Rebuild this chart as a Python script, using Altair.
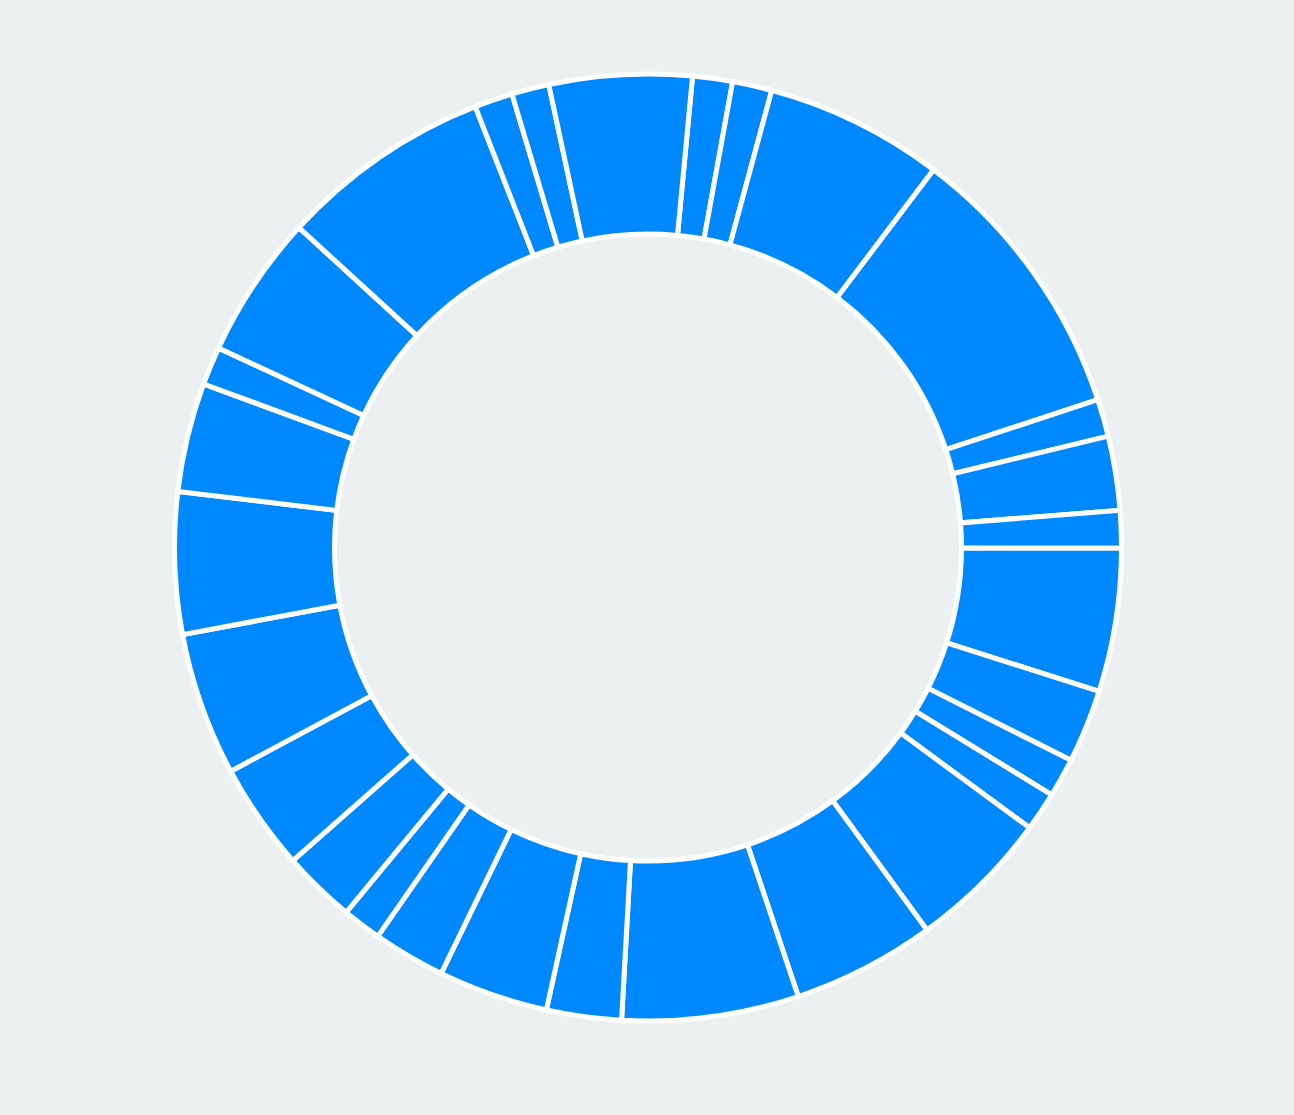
import math
import altair as alt
import pandas as pd

# slice sizes (degrees of the ring), clockwise starting from the slice just right of 12 o'clock
values = [4.9, 4.85, 21.95, 34.7, 4.6, 9.1, 4.6, 17.6, 9.0, 4.8, 4.8, 17.6, 17.6, 21.7,
          9.2, 13.5, 8.9, 4.8, 9.0, 13.2, 17.6, 17.4, 13.4, 4.7, 17.6, 26.1, 4.7, 4.6, 17.5]
labels = [f"S{i+1}" for i in range(len(values))]

df = pd.DataFrame({"idx": list(range(len(values))), "label": labels, "value": values})

start = math.radians(5.4)

chart = (
    alt.Chart(df)
    .mark_arc(radius=473.5, radius2=313.5, stroke="white", strokeWidth=5, color="#0088FF")
    .encode(
        theta=alt.Theta("value:Q", stack=True,
                        scale=alt.Scale(range=[start, start + 2 * math.pi])),
        order=alt.Order("idx:Q"),
        x=alt.value(648),
        y=alt.value(547.5),
        tooltip=["label:N", "value:Q"],
    )
    .properties(width=1294, height=1115, padding=0, background="#ECF0F1",
                autosize=alt.AutoSizeParams(type="none"))
    .configure_view(stroke=None)
)

chart.save("out.html", embed_options={"renderer": "svg", "actions": False})
